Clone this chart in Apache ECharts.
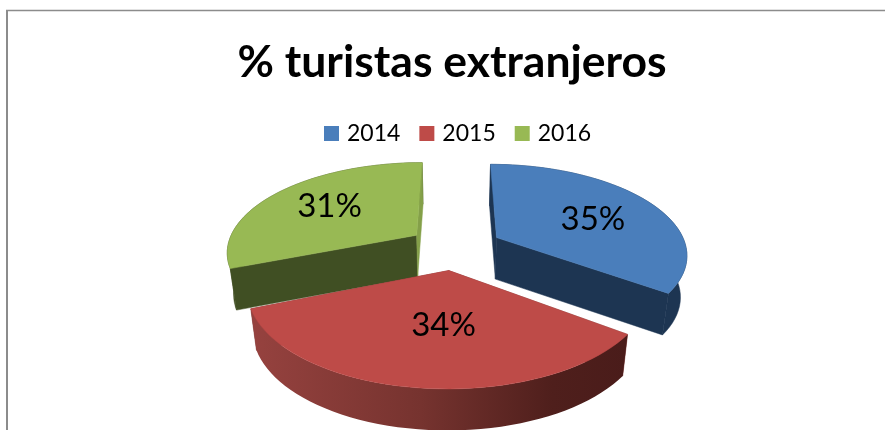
<!DOCTYPE html>
<html><head><meta charset="utf-8">
<style>html,body{margin:0;padding:0;background:#fff}#c{width:885px;height:430px}</style>
<script src="https://cdn.jsdelivr.net/npm/echarts@6/dist/echarts.min.js"></script>
</head><body><div id="c"></div>
<script>
var titleText = '% turistas extranjeros';
var years = ['2014', '2015', '2016'];
var shares = [35, 34, 31];
var topColors = ['#4a7ebb', '#be4b48', '#98b954'];
var sideColors = ['#1d3552', '#7a3533', '#404f23'];
var startFaceColors = ['#1d3552', '#7a3533', '#404f23'];
var endFaceColors = ['#1d3552', '#7a3533', '#84a049'];
var endFaceOverBand = [false, false, true];

// projection of the tilted pie plane onto the screen
var CX = 455, CY = 247.5, RX = 190, RY = 89, PERSP = 0.172, EXPLODE = 0.25;
var DEPTH = 41.5, CONVERGE = 0.028;
var LABEL_R = [0.6, 0.5, 0.6], LABEL_DX = [3, 9, -2], LABEL_DY = [4, 2, -2];

var total = shares.reduce(function (a, b) { return a + b; }, 0);
function project(u, v) {
  var s = 1 / (1 + PERSP * v);
  return [CX + RX * u * s, CY - RY * v * s];
}
function extrude(p) {
  return [CX + (p[0] - CX) * (1 - CONVERGE), p[1] + DEPTH];
}
function sliceGeometry(startShare, share) {
  var a0 = startShare / total * 2 * Math.PI, a1 = (startShare + share) / total * 2 * Math.PI;
  var m = (a0 + a1) / 2, ou = EXPLODE * Math.sin(m), ov = EXPLODE * Math.cos(m);
  var rim = [], n = 48;
  for (var i = 0; i <= n; i++) {
    var a = a0 + (a1 - a0) * i / n;
    rim.push(project(ou + Math.sin(a), ov + Math.cos(a)));
  }
  return { rim: rim, apex: project(ou, ov), mid: m, ou: ou, ov: ov };
}
var redSideFill = {
  type: 'linear', global: true, x: 252, y: 0, x2: 627, y2: 0,
  colorStops: [
    { offset: 0, color: '#96423f' }, { offset: 0.45, color: '#76332f' },
    { offset: 0.8, color: '#4f1f1c' }, { offset: 1, color: '#4a1c1a' }
  ]
};
function makeRender(idx, startShare) {
  return function (params, api) {
    var share = api.value(0);
    var g = sliceGeometry(startShare, share);
    var bottomRim = g.rim.map(extrude), apexB = extrude(g.apex);
    var side = idx === 1 ? redSideFill : sideColors[idx];
    var first = g.rim[0], last = g.rim[g.rim.length - 1];
    var band = g.rim.concat(bottomRim.slice().reverse());
    var poly = function (pts, fill) {
      return { type: 'polygon', shape: { points: pts },
        style: { fill: fill, stroke: typeof fill === 'string' ? fill : null, lineWidth: 0.5 } };
    };
    var lu = g.ou + LABEL_R[idx] * Math.sin(g.mid), lv = g.ov + LABEL_R[idx] * Math.cos(g.mid);
    var lp = project(lu, lv);
    var endFace = poly([g.apex, last, bottomRim[bottomRim.length - 1], apexB], endFaceColors[idx]);
    var startFace = poly([g.apex, first, bottomRim[0], apexB], startFaceColors[idx]);
    var bandPoly = poly(band, side);
    var lower = endFaceOverBand[idx] ? [startFace, bandPoly, endFace] : [endFace, startFace, bandPoly];
    return { type: 'group', children: lower.concat([
      poly([g.apex].concat(g.rim), topColors[idx]),
      { type: 'text', style: { text: share + '%', x: lp[0] + LABEL_DX[idx], y: lp[1] + LABEL_DY[idx],
          align: 'center', verticalAlign: 'middle', fill: '#000',
          font: '33px Lato' } }
    ]) };
  };
}
var cum = 0;
var series = years.map(function (y, i) {
  var s = {
    type: 'custom', name: y, coordinateSystem: 'none', silent: true,
    z: i === 1 ? 3 : 2,
    itemStyle: { color: topColors[i] },
    data: [[shares[i]]],
    renderItem: makeRender(i, cum)
  };
  cum += shares[i];
  return s;
});
var chart = echarts.init(document.getElementById('c'), null, { renderer: 'canvas' });
chart.setOption({
  animation: false,
  backgroundColor: '#fff',
  title: { text: titleText, left: 447, top: 35, textAlign: 'center',
    textStyle: { fontFamily: 'Lato', fontWeight: 'bold', fontSize: 44.5, color: '#000' } },
  legend: { data: years, left: 319, top: 117, icon: 'rect', itemWidth: 15, itemHeight: 15, itemGap: 19,
    selectedMode: false,
    textStyle: { fontFamily: 'Lato', fontSize: 23, color: '#000', padding: [0, 0, 0, 3] } },
  graphic: [
    { type: 'line', shape: { x1: 7, y1: 10, x2: 7, y2: 430 }, style: { stroke: '#8c8c8c', lineWidth: 2 }, z: 0, silent: true },
    { type: 'line', shape: { x1: 6, y1: 10.5, x2: 885, y2: 10.5 }, style: { stroke: '#8c8c8c', lineWidth: 1.5 }, z: 0, silent: true }
  ],
  series: series
});
</script></body></html>
